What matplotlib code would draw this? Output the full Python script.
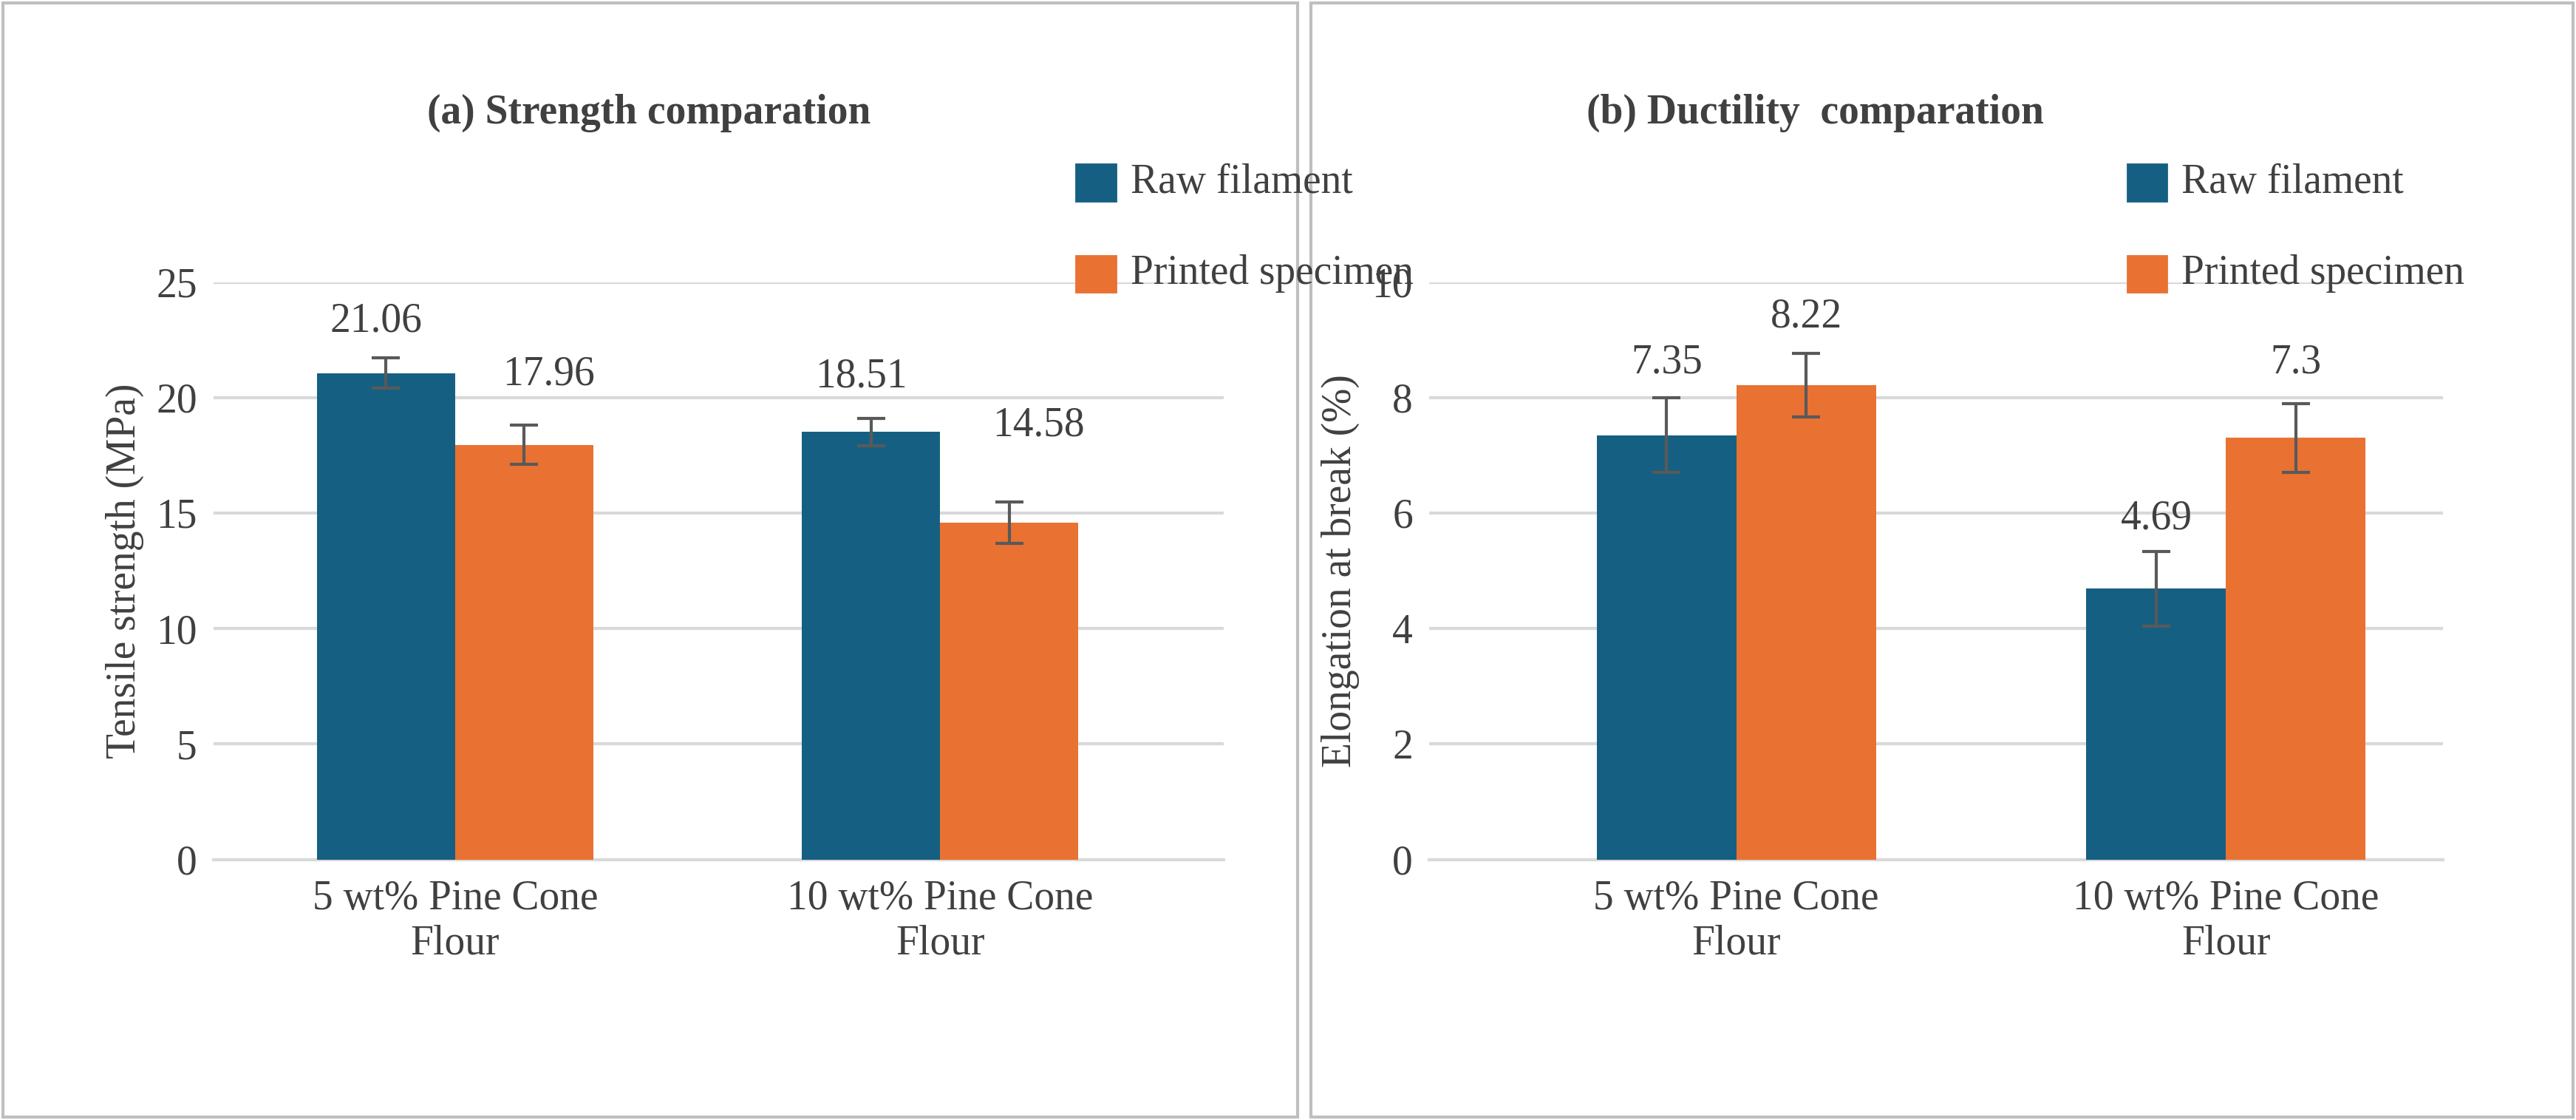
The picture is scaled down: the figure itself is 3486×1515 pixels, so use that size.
import matplotlib
matplotlib.use("Agg")
import matplotlib.pyplot as plt
from matplotlib.patches import Rectangle
import numpy as np

plt.rcParams["font.family"] = ["Liberation Serif", "DejaVu Serif"]

categories = ["5 wt% Pine Cone\nFlour", "10 wt% Pine Cone\nFlour"]
series = ["Raw filament", "Printed specimen"]
strength_raw = [21.06, 18.51]
strength_printed = [17.96, 14.58]
strength_raw_err = [0.65, 0.6]
strength_printed_err = [0.85, 0.9]
elong_raw = [7.35, 4.69]
elong_printed = [8.22, 7.3]
elong_raw_err = [0.65, 0.65]
elong_printed_err = [0.55, 0.6]

BLUE = "#156082"
ORANGE = "#E97132"
TXT = "#404040"
W, H = 1568, 675
FS = 20

fig = plt.figure(figsize=(17.43, 7.575), dpi=200)

def fx(px):
    return px / W

def fy(py):
    return 1 - py / H

for x0, x1 in [(2, 790), (798, 1566)]:
    fig.patches.append(Rectangle((fx(x0), fy(673)), fx(x1 - x0), 671 / H,
                                 transform=fig.transFigure, fill=False,
                                 edgecolor="#bfbfbf", lw=1.5))

def panel(left, right, xlim, raw, pr, raw_err, pr_err, ymax, ystep, ylabel, title,
          title_x, leg_x, label_pos):
    ax = fig.add_axes([fx(left), fy(518), fx(right - left), (518 - 170) / H])
    x = np.arange(len(categories))
    w = 0.285
    ax.bar(x - w / 2, raw, w, color=BLUE, zorder=3)
    ax.bar(x + w / 2, pr, w, color=ORANGE, zorder=3)
    ekw = dict(fmt="none", ecolor="#595959", elinewidth=1.5, capsize=7, capthick=1.5, zorder=4)
    ax.errorbar(x - w / 2, raw, yerr=raw_err, **ekw)
    ax.errorbar(x + w / 2, pr, yerr=pr_err, **ekw)
    # order: raw0, printed0, raw1, printed1
    vals = [(x[0] - w / 2, raw[0]), (x[0] + w / 2, pr[0]),
            (x[1] - w / 2, raw[1]), (x[1] + w / 2, pr[1])]
    for (xv, yv), (dx, yt) in zip(vals, label_pos):
        ax.text(xv + dx, yt, f"{yv:g}", ha="center", va="center", fontsize=FS, color=TXT, zorder=5)
    ax.set_xlim(*xlim)
    ax.set_ylim(0, ymax)
    ax.set_yticks(np.arange(0, ymax + 0.01, ystep))
    ax.yaxis.grid(True, color="#d9d9d9", lw=1.5, zorder=0)
    ax.set_xticks(x)
    ax.set_xticklabels(categories, fontsize=FS, color=TXT)
    ax.tick_params(axis="y", labelsize=FS, colors=TXT, length=0, pad=8)
    ax.tick_params(axis="x", length=0, pad=10)
    for s in ["top", "right", "left"]:
        ax.spines[s].set_visible(False)
    ax.spines["bottom"].set_color("#d9d9d9")
    ax.spines["bottom"].set_linewidth(1.5)
    ax.set_ylabel(ylabel, fontsize=FS, color=TXT, labelpad=6)
    fig.text(fx(title_x), fy(68), title, ha="center", va="center", fontsize=FS,
             fontweight="bold", color=TXT)
    for py, name, c in [(110, series[0], BLUE), (165, series[1], ORANGE)]:
        fig.patches.append(Rectangle((fx(leg_x), fy(py + 11)), fx(24), 22 / H,
                                     transform=fig.transFigure, color=c))
        fig.text(fx(leg_x + 33), fy(py), name, ha="left", va="center", fontsize=FS, color=TXT)
    return ax

panel(130, 745, (-0.498, 1.585), strength_raw, strength_printed,
      strength_raw_err, strength_printed_err,
      25, 5, "Tensile strength (MPa)", "(a) Strength comparation", 395, 655,
      [(-0.02, 23.3), (0.05, 21.0), (-0.02, 20.9), (0.06, 18.8)])
panel(870, 1487, (-0.627, 1.443), elong_raw, elong_printed, elong_raw_err, elong_printed_err,
      10, 2, "Elongation at break (%)", "(b) Ductility  comparation", 1105, 1295,
      [(0, 8.6), (0, 9.4), (0, 5.9), (0, 8.6)])

fig.savefig("out.png", dpi=200)
